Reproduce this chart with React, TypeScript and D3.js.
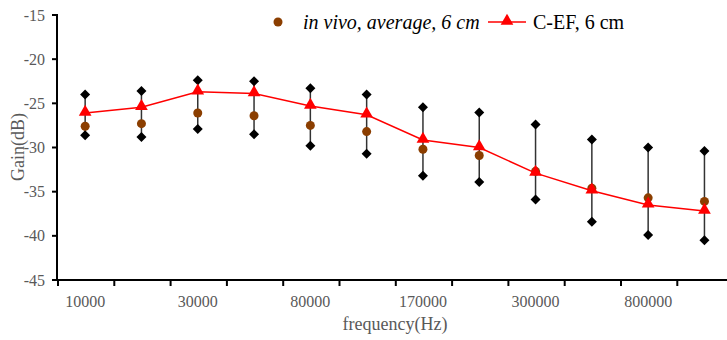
import React from "react";
import * as d3 from "d3";

const categories = ["10000", "20000", "30000", "50000", "80000", "100000", "170000", "200000", "300000", "500000", "800000", "1000000"];
const shownLabels = ["10000", "30000", "80000", "170000", "300000", "800000"];
const inVivo = [-27.6, -27.3, -26.1, -26.4, -27.5, -28.2, -30.2, -30.9, -32.7, -34.6, -35.7, -36.1];
const upper = [-24.0, -23.6, -22.4, -22.5, -23.3, -24.0, -25.45, -26.05, -27.4, -29.1, -30.0, -30.4];
const lower = [-28.6, -28.8, -27.9, -28.5, -29.8, -30.7, -33.2, -33.9, -35.9, -38.4, -39.9, -40.5];
const cef = [-26.1, -25.45, -23.7, -23.9, -25.3, -26.3, -29.15, -30.0, -32.9, -34.9, -36.5, -37.2];
const yTicks = [-15, -20, -25, -30, -35, -40, -45];

const W = 727, H = 340;
const left = 57, top = 15, bottom = 280;
const bandW = 56.3;

export default function App() {
  const x = d3.scaleBand<string>().domain(categories).range([left, left + bandW * categories.length]).paddingInner(0).paddingOuter(0);
  const y = d3.scaleLinear().domain([-45, -15]).range([bottom, top]);
  const cx = (c: string) => (x(c) as number) + x.bandwidth() / 2;
  const line = d3.line<number>().x((_, i) => cx(categories[i])).y((d) => y(d));
  const tri = d3.symbol().type(d3.symbolTriangle).size(70)();
  const dia = "M0,-5L5,0L0,5L-5,0Z";
  const font = "'Liberation Serif', 'Times New Roman', serif";
  const boundaries = categories.map((c) => x(c) as number).concat([left + bandW * categories.length]);

  return (
    <svg width={W} height={H} style={{ position: "absolute", left: 0, top: 0, background: "#fff" }} fontFamily={font}>
      {/* y axis */}
      <line x1={left} x2={left} y1={top - 1} y2={bottom + 1} stroke="#000" strokeWidth={2} />
      {yTicks.map((t) => (
        <g key={t}>
          <line x1={left - 5} x2={left} y1={y(t)} y2={y(t)} stroke="#000" strokeWidth={2} />
          <text x={left - 12} y={y(t)} dy="0.35em" textAnchor="end" fontSize={16} fill="#595959">{t}</text>
        </g>
      ))}
      {/* x axis */}
      <line x1={left - 1} x2={W} y1={bottom} y2={bottom} stroke="#000" strokeWidth={2} />
      {boundaries.map((b, i) => (
        <line key={i} x1={b + 1} x2={b + 1} y1={bottom} y2={bottom + 6} stroke="#000" strokeWidth={2} />
      ))}
      {categories.map((c) =>
        shownLabels.includes(c) ? (
          <text key={c} x={cx(c)} y={307} textAnchor="middle" fontSize={16} fill="#595959">{c}</text>
        ) : null
      )}
      <text x={395} y={330} textAnchor="middle" fontSize={18} fill="#595959">frequency(Hz)</text>
      <text transform="translate(24,147) rotate(-90)" textAnchor="middle" fontSize={18} fill="#595959">Gain(dB)</text>

      {/* error bars */}
      {categories.map((c, i) => (
        <g key={c}>
          <line x1={cx(c)} x2={cx(c)} y1={y(upper[i])} y2={y(lower[i])} stroke="#333" strokeWidth={1.5} />
          <path d={dia} transform={`translate(${cx(c)},${y(upper[i])})`} fill="#000" />
          <path d={dia} transform={`translate(${cx(c)},${y(lower[i])})`} fill="#000" />
        </g>
      ))}
      {/* in vivo */}
      {categories.map((c, i) => (
        <circle key={c} cx={cx(c)} cy={y(inVivo[i])} r={4.5} fill="#8B3E00" />
      ))}
      {/* C-EF */}
      <path d={line(cef) as string} fill="none" stroke="#FF0000" strokeWidth={1.5} />
      {categories.map((c, i) => (
        <path key={c} d={tri as string} transform={`translate(${cx(c)},${y(cef[i]) - 1})`} fill="#FF0000" />
      ))}

      {/* legend */}
      <circle cx={278} cy={22} r={4.5} fill="#8B3E00" />
      <text x={303} y={29} fontSize={20} fontStyle="italic" fill="#000">in vivo, average, 6 cm</text>
      <line x1={488} x2={526} y1={22} y2={22} stroke="#FF0000" strokeWidth={1.5} />
      <path d={tri as string} transform="translate(507,21)" fill="#FF0000" />
      <text x={533} y={29} fontSize={20} fill="#000">C-EF, 6 cm</text>
    </svg>
  );
}
